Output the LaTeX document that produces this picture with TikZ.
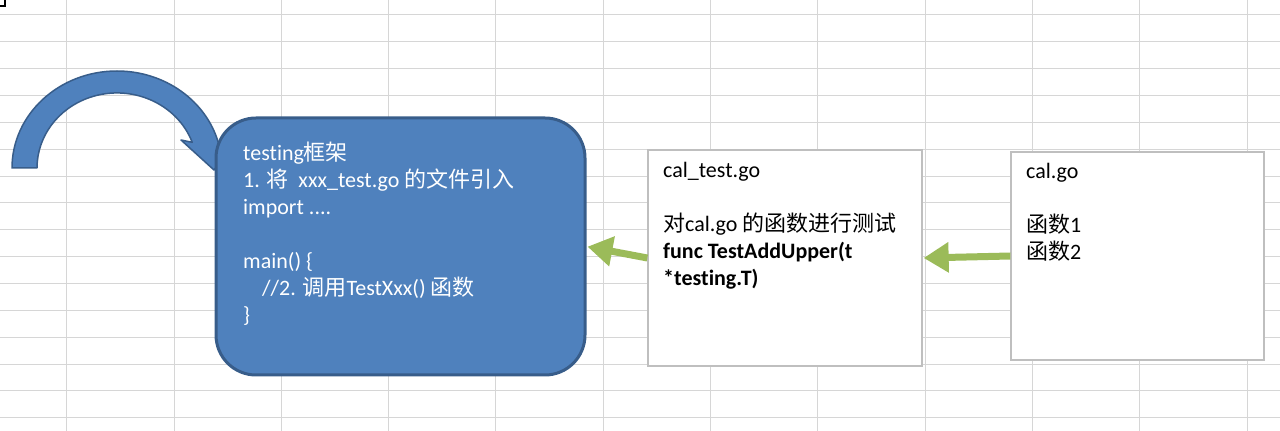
\documentclass[tikz,border=0pt]{standalone}
\usepackage{fontspec}
\setmainfont{Carlito}[Ligatures=NoCommon]
\newfontfamily\cjk{Noto Sans CJK SC}
\usetikzlibrary{arrows.meta}
\definecolor{gridc}{HTML}{D6D6D6}
\definecolor{boxblue}{HTML}{4F81BD}
\definecolor{boxblueline}{HTML}{385D8A}
\definecolor{arrgreen}{HTML}{9BBB59}
\definecolor{boxgray}{HTML}{BFBFBF}
\tikzset{
  bluebox/.style={draw=boxblueline, line width=3pt, fill=boxblue, rounded corners=40pt, inner sep=0pt},
  filebox/.style={draw=boxgray, line width=1.3pt, fill=white, inner sep=0pt},
  boxtext/.style={anchor=base west, inner sep=0pt, font=\fontsize{22pt}{27pt}\selectfont},
  greenarrow/.style={draw=arrgreen, line width=7pt, -{Triangle[length=25pt,width=29pt]}, shorten >=1pt},
  gridline/.style={draw=gridc, line width=1pt}
}
\begin{document}
\begin{tikzpicture}[x=1pt,y=1pt]
\useasboundingbox (0,0) rectangle (1280,431);
% spreadsheet grid
\foreach \k in {0,...,15} {
  \draw[gridline] (0,{431-15-26.85*\k}) -- (1280,{431-15-26.85*\k});
}
\foreach \k in {0,...,11} {
  \draw[gridline] ({66.7+107.3*\k},0) -- ({66.7+107.3*\k},431);
}
% small black mark top-left
\draw[line width=2pt] (0,425) -- (5,425) -- (5,431);
% curved arrow
\filldraw[fill=boxblue, draw=boxblueline, line width=1.5pt, line join=round]
  (12,263) arc[start angle=180, end angle=15, x radius=105, y radius=97]
  -- (236,287) -- (214,261) -- (181,291) -- (192.2,288.7)
  arc[start angle=20, end angle=180, x radius=80, y radius=75] -- cycle;
% boxes
\node[bluebox, minimum width=369pt, minimum height=257pt] (frame) at (400.5,184.5) {};
\node[filebox, minimum width=274pt, minimum height=216pt] (caltest) at (785,173) {};
\node[filebox, minimum width=253pt, minimum height=208pt] (cal) at (1137.5,175) {};
% texts
\node[boxtext, text=white] (frametext) at (243,270) {\parbox[t]{330pt}{%
testing{\cjk 框架}\\
1. {\cjk 将}\ \ xxx\_test.go {\cjk 的文件引入}\\
import ....\\[27pt]
main() \{\\
\hspace*{19pt}//2. {\cjk 调用}TestXxx() {\cjk 函数}\\
\}}};
\node[boxtext, text=black] (caltesttext) at (663,253) {\parbox[t]{250pt}{%
cal\_test.go\\[27pt]
{\cjk 对}cal.go {\cjk 的函数进行测试}\\
\textbf{func TestAddUpper(t}\\
\textbf{*testing.T)}}};
\node[boxtext, text=black] (caltext) at (1026,252) {\parbox[t]{220pt}{%
cal.go\\[27pt]
{\cjk 函数}1\\
{\cjk 函数}2}};
% green arrows
\draw[greenarrow] (caltest.west) -- (frame.east);
\draw[greenarrow] (cal.west) -- (caltest.east);
\end{tikzpicture}
\end{document}
